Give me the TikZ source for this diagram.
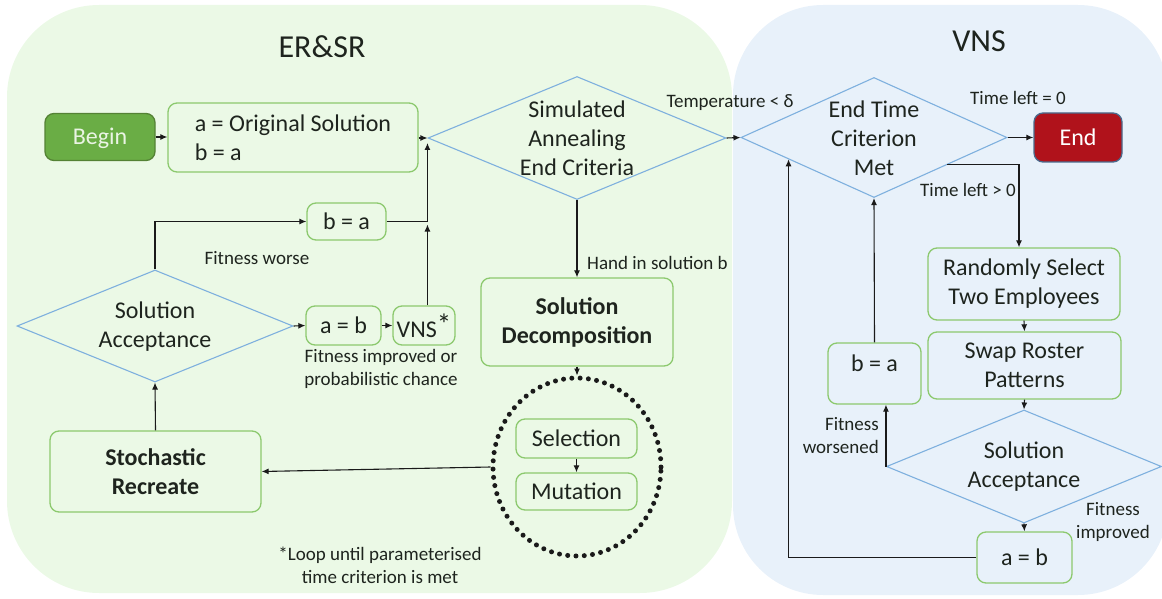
\documentclass[tikz,border=0pt]{standalone}
\usepackage{fontspec}
\setmainfont{Carlito}
\usetikzlibrary{shapes.geometric,arrows.meta,calc}
\definecolor{panelG}{HTML}{EBF9E6}
\definecolor{panelB}{HTML}{E8F1FA}
\definecolor{boxG}{HTML}{8CC96E}
\definecolor{diaB}{HTML}{7EB0DE}
\definecolor{txt}{HTML}{1E241E}
\definecolor{beginG}{HTML}{6AAD45}
\definecolor{beginB}{HTML}{548235}
\definecolor{beginT}{HTML}{EAF4E4}
\definecolor{endR}{HTML}{B0121B}
\definecolor{endB}{HTML}{4A6A8C}
\definecolor{lineC}{HTML}{1A1A1A}
\newcommand\mainsz{\fontsize{24}{29}\selectfont}
\newcommand\smallsz{\fontsize{19}{23}\selectfont}
\newcommand\titlesz{\fontsize{32}{36}\selectfont}
\tikzset{
  box/.style={draw=boxG, line width=1.3pt, rounded corners=9pt, align=center, text=txt, font=\mainsz, inner sep=0pt},
  boldbox/.style={box, font=\mainsz\bfseries},
  dia/.style={draw=diaB, line width=1.1pt, diamond, inner sep=0pt},
  mtxt/.style={font=\mainsz, text=txt, align=center, inner sep=0pt},
  lbl/.style={font=\smallsz, text=txt, align=center, inner sep=0pt},
  arr/.style={draw=lineC, line width=1.1pt, -{Latex[length=7pt,width=6pt]}},
  dotring/.style={draw=lineC, ellipse, line width=5pt, line cap=round, dash pattern=on 0pt off 8.3pt, inner sep=0pt}
}
\begin{document}
\begin{tikzpicture}[x=1pt,y=-1pt]
\useasboundingbox (0,0) rectangle (1162,599);
\begin{scope}
\clip (0,0) rectangle (1162,599);
\fill[panelG, rounded corners=92pt] (7,5) rectangle (732,593);
\fill[panelB, rounded corners=90pt] (733,5) rectangle (1168,595);
\end{scope}

% titles
\node[font=\titlesz, text=txt] (t1) at (322,47) {ER\&SR};
\node[font=\titlesz, text=txt] (t2) at (979,41) {VNS};

% left side
\node[box, fill=beginG, draw=beginB, text=beginT, text depth=1pt, minimum width=110pt, minimum height=47pt] (begin) at (100,137) {Begin};
\node[box, align=left, minimum width=250pt, minimum height=69pt] (orig) at (293,137.5) {a = Original Solution\\b = a};
\node[dia, minimum width=298pt, minimum height=123pt] (sa) at (577,138) {};
\node[mtxt] (sat) at (577,138) {Simulated\\Annealing\\End Criteria};
\node[box, minimum width=79pt, minimum height=37pt] (ba1) at (346.5,221.5) {b = a};
\node[dia, minimum width=276pt, minimum height=112pt] (acc) at (155,326) {};
\node[mtxt] (acct) at (155,326.5) {Solution\\Acceptance};
\node[box, minimum width=75pt, minimum height=39pt] (ab1) at (343.5,325.5) {a = b};
\node[box, minimum width=62pt, minimum height=39pt] (vns) at (424,325.5) {VNS\raisebox{3pt}{\fontsize{29}{29}\selectfont *}};
\node[boldbox, minimum width=211pt, minimum height=81pt] (stoch) at (155.5,471.5) {Stochastic\\Recreate};
\node[boldbox, minimum width=192pt, minimum height=88pt] (dec) at (577,322) {Solution\\Decomposition};
\node[dotring, minimum width=168pt, minimum height=178pt] (loop) at (577,467) {};
\node[box, minimum width=121pt, minimum height=39pt] (sel) at (576.5,438.5) {Selection};
\node[box, minimum width=121pt, minimum height=37pt] (mut) at (576.5,491.5) {Mutation};

% right side
\node[dia, minimum width=266pt, minimum height=120pt] (etc) at (874,137.5) {};
\node[mtxt] (etct) at (874,138) {End Time\\Criterion\\Met};
\node[box, fill=endR, draw=endB, text=white, text depth=1pt, minimum width=88pt, minimum height=49pt] (end) at (1078,137.5) {End};
\node[box, minimum width=192pt, minimum height=72pt] (rand) at (1024,284) {Randomly Select\\Two Employees};
\node[box, minimum width=193pt, minimum height=67pt] (swap) at (1024.5,365.5) {Swap Roster\\Patterns};
\node[dia, minimum width=275pt, minimum height=113pt] (acc2) at (1024,466.5) {};
\node[mtxt] (acc2t) at (1024,467) {Solution\\Acceptance};
\node[box, minimum width=93pt, minimum height=61pt, text depth=21pt] (ba2) at (874.5,373.5) {b = a};
\node[box, minimum width=95pt, minimum height=51pt] (ab2) at (1024.5,557.5) {a = b};

% labels
\node[lbl] (l1) at (257,258) {Fitness worse};
\node[lbl] (l2) at (381,368.5) {Fitness improved or\\probabilistic chance};
\node[lbl, anchor=west] (l3) at (587,263) {Hand in solution b};
\node[lbl] (l4) at (730,103) {Temperature < δ};
\node[lbl] (l5) at (1018,98) {Time left = 0};
\node[lbl] (l6) at (968,190) {Time left > 0};
\node[lbl, align=right, anchor=east] (l7) at (879,435.5) {Fitness\\worsened};
\node[lbl] (l8) at (1113,521.5) {Fitness\\improved};
\node[lbl] (l9) at (380,565) {*Loop until parameterised\\time criterion is met};

% connectors
\draw[arr] (begin.east) -- (orig.west |- begin.east);
\draw[arr] (orig.east |- sa.west) -- (sa.west);
\draw[arr] (ba1.east) -| ($(sa.west)+(0,5)$);
\draw[arr] (vns.north -| sa.west) -- ($(ba1.east -| sa.west)+(0,3)$);
\draw[arr] (acc.north) |- (ba1.west);
\draw[arr] (acc.east) -- (ab1.west);
\draw[arr] (ab1.east) -- (vns.west);
\draw[arr] (stoch.north) -- (acc.south);
\draw[arr] (loop.west) -- (stoch.east);
\draw[arr] (sa.south) -- (dec.north);
\draw[arr] (dec.south) -- (loop.north);
\draw[arr] (sel.south) -- (mut.north);
\draw[arr] (sa.east) -- (etc.west);
\draw[arr] (etc.east) -- (end.west);
\draw[arr] ($(etc.east)!0.45!(etc.south)$) -| ($(rand.north)+(-5,0)$);
\draw[arr] (rand.south) -- (swap.north);
\draw[arr] (swap.south) -- (acc2.north);
\draw[arr] (acc2.south) -- (ab2.north);
\draw[arr] (acc2.west) -- (acc2.west |- ba2.south);
\draw[arr] (ba2.north) -- (etc.south);
\draw[arr] (ab2.west) -| ($(etc.west)!0.36!(etc.south)$);
\end{tikzpicture}
\end{document}
